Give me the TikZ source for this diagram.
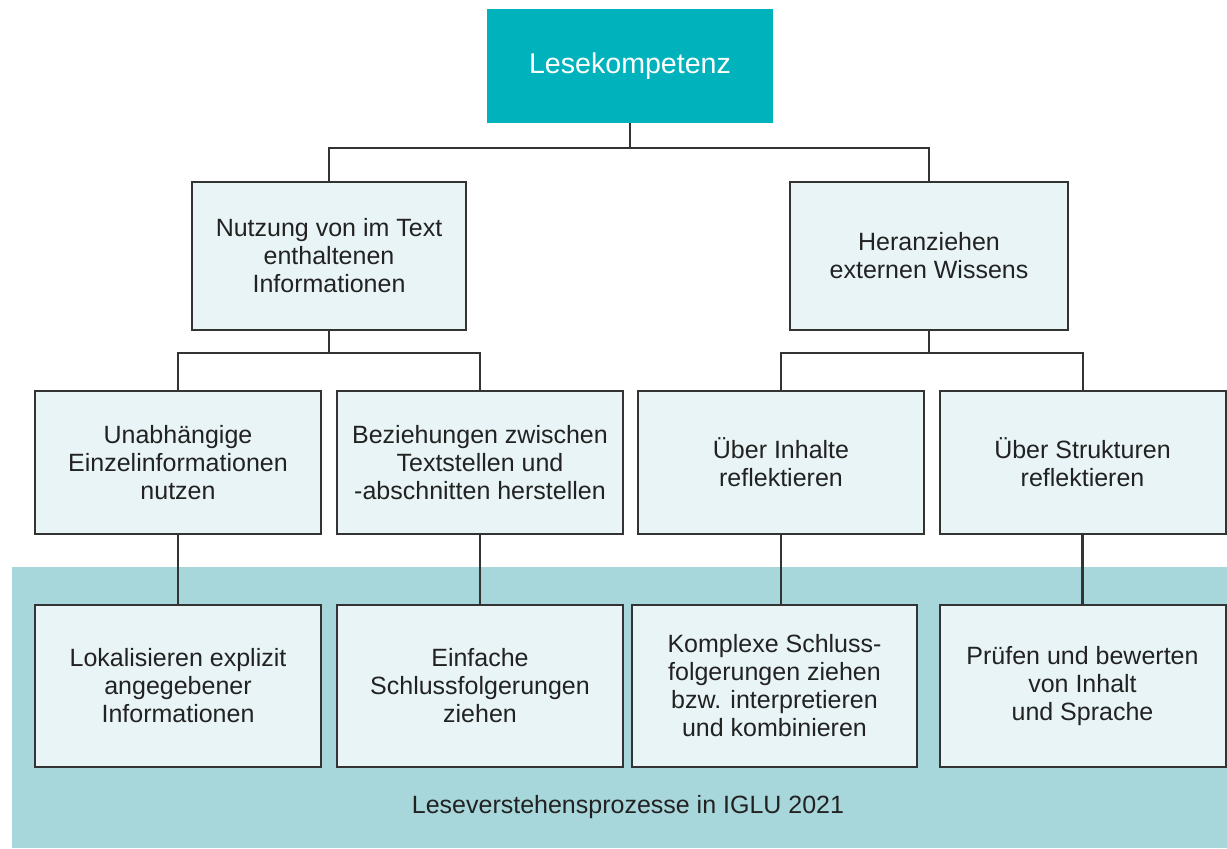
\documentclass[tikz,border=0pt]{standalone}
\usepackage{fontspec}
\setmainfont{Liberation Sans}
\definecolor{teal1}{HTML}{00B2BB}
\definecolor{band}{HTML}{A7D6DB}
\definecolor{boxfill}{HTML}{E8F4F6}
\definecolor{linec}{HTML}{333333}
\definecolor{txt}{HTML}{222222}
\begin{document}
\begin{tikzpicture}[x=0.5pt,y=-0.5pt,
  box/.style={draw=linec,line width=1pt,fill=boxfill,inner sep=0pt,align=center,
    text=txt,font=\fontsize{12.5}{14}\selectfont,minimum width=143pt},
  titlebox/.style={fill=teal1,inner sep=0pt,align=center,text=white,
    font=\fontsize{14.3}{16}\selectfont,minimum width=143pt,minimum height=57pt},
  conn/.style={draw=linec,line width=1pt},
  lab/.style={text=txt,font=\fontsize{12.5}{14}\selectfont,inner sep=0pt}]
\useasboundingbox (0,0) rectangle (1227,848);
\fill[white] (0,0) rectangle (1227,848);
% band
\fill[band] (12,567) rectangle (1227,848);
\node[lab] (bandlabel) at (628,807) {Leseverstehensprozesse in IGLU 2021};
% title
\node[titlebox] (title) at (630,66) {Lesekompetenz};
% level 2
\node[box,minimum width=137pt,minimum height=74pt] (l2a) at (329,256)
  {Nutzung von im Text\\enthaltenen\\Informationen};
\node[box,minimum width=139pt,minimum height=74pt] (l2b) at (929,256)
  {Heranziehen\\externen Wissens};
% level 3
\node[box,minimum height=71.5pt] (l3a) at (178,462.5)
  {Unabhängige\\Einzelinformationen\\nutzen};
\node[box,minimum height=71.5pt] (l3b) at (480,462.5)
  {Beziehungen zwischen\\Textstellen und\\-abschnitten herstellen};
\node[box,minimum height=71.5pt] (l3c) at (781,462.5)
  {Über Inhalte\\reflektieren};
\node[box,minimum height=71.5pt] (l3d) at (1082.5,462.5)
  {Über Strukturen\\reflektieren};
% level 4
\node[box,minimum height=81pt] (l4a) at (178,686)
  {Lokalisieren explizit\\angegebener\\Informationen};
\node[box,minimum height=81pt] (l4b) at (480,686)
  {Einfache\\Schlussfolgerungen\\ziehen};
\node[box,minimum width=142.5pt,minimum height=81pt] (l4c) at (774.5,686)
  {Komplexe Schluss-\\folgerungen ziehen\\bzw. interpretieren\\und kombinieren};
\node[box,minimum height=81pt] (l4d) at (1082.5,686)
  {Prüfen und bewerten\\von Inhalt\\und Sprache};
% junctions
\coordinate (j0) at (630,148);
\coordinate (j1) at (329,353);
\coordinate (j2) at (929,353);
% connectors
\draw[conn] (title.south) -- (j0);
\draw[conn] (l2a.north) |- (j0) -| (l2b.north);
\draw[conn] (l2a.south) -- (j1);
\draw[conn] (l3a.north) |- (j1) -| (l3b.north);
\draw[conn] (l2b.south) -- (j2);
\draw[conn] (l3c.north) |- (j2) -| (l3d.north);
\draw[conn] (l3a.south) -- (l3a.south |- l4a.north);
\draw[conn] (l3b.south) -- (l3b.south |- l4b.north);
\draw[conn] (l3c.south) -- (l3c.south |- l4c.north);
\draw[conn,line width=1.6pt] (l3d.south) -- (l3d.south |- l4d.north);
\end{tikzpicture}
\end{document}
